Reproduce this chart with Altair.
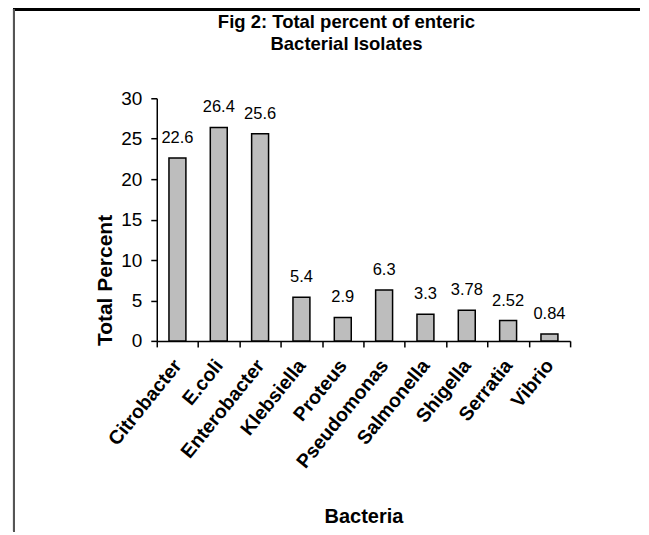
import altair as alt
import pandas as pd

categories = ["Citrobacter", "E.coli", "Enterobacter", "Klebsiella", "Proteus",
              "Pseudomonas", "Salmonella", "Shigella", "Serratia", "Vibrio"]
values = [22.6, 26.4, 25.6, 5.4, 2.9, 6.3, 3.3, 3.78, 2.52, 0.84]
value_labels = ["22.6", "26.4", "25.6", "5.4", "2.9", "6.3", "3.3", "3.78", "2.52", "0.84"]
y_ticks = [0, 5, 10, 15, 20, 25, 30]

df = pd.DataFrame({"Bacteria": categories, "Percent": values, "Label": value_labels})

FONT = "Liberation Sans"
W, H = 414, 243

x_enc = alt.X(
    "Bacteria:N",
    sort=categories,
    scale=alt.Scale(paddingInner=0, paddingOuter=0),
    axis=alt.Axis(
        title="Bacteria",
        titleFont=FONT, titleFontSize=20, titleFontWeight="bold", titleColor="black",
        titleY=176, titleBaseline="middle",
        labelFont=FONT, labelFontSize=19.5, labelFontWeight="bold", labelColor="black",
        labelAngle=309, labelAlign="right", labelBaseline="middle", labelPadding=15,
        tickBand="extent", tickSize=6, tickColor="black", tickWidth=1.5,
        domainColor="black", domainWidth=1.5,
    ),
)

y_enc = alt.Y(
    "Percent:Q",
    scale=alt.Scale(domain=[0, 30], nice=False),
    axis=alt.Axis(
        title="Total Percent", values=y_ticks, grid=False,
        titleFont=FONT, titleFontSize=21, titleFontWeight="bold", titleColor="black",
        titleX=-51, titleY=182, titleAngle=270, titleAlign="center", titleBaseline="middle",
        labelFont=FONT, labelFontSize=19, labelColor="black", labelPadding=9,
        tickSize=6, tickColor="black", tickWidth=1.5,
        domainColor="black", domainWidth=1.5,
    ),
)

bars = alt.Chart(df).mark_bar(
    width=alt.RelativeBandSize(0.41), fill="#bdbdbd", stroke="black", strokeWidth=1.5
).encode(x=x_enc, y=y_enc)

labels = alt.Chart(df).mark_text(
    font=FONT, fontSize=16.5, color="black", baseline="alphabetic", dy=-15
).encode(x=alt.X("Bacteria:N", sort=categories), y="Percent:Q", text="Label:N")

frame_top = alt.Chart(df).mark_rule(color="black", strokeWidth=2).encode(
    x=alt.value(-144), x2=alt.value(484), y=alt.value(-89)
)
frame_left = alt.Chart(df).mark_rule(color="#555555", strokeWidth=2).encode(
    x=alt.value(-143), y=alt.value(-89), y2=alt.value(434)
)

chart = alt.layer(bars, labels, frame_top, frame_left).properties(
    width=W, height=H,
    background="white",
    padding={"left": 4, "top": 0, "right": 0, "bottom": 0},
    title=alt.TitleParams(
        text=["Fig 2: Total percent of enteric", "Bacterial Isolates"],
        font=FONT, fontSize=18.5, fontWeight="bold", color="black",
        anchor="middle", frame="group", dx=-17, dy=89, offset=44, lineHeight=22,
    ),
).configure_view(stroke=None)

chart.save("out.html", embed_options={"renderer": "svg", "actions": False})
